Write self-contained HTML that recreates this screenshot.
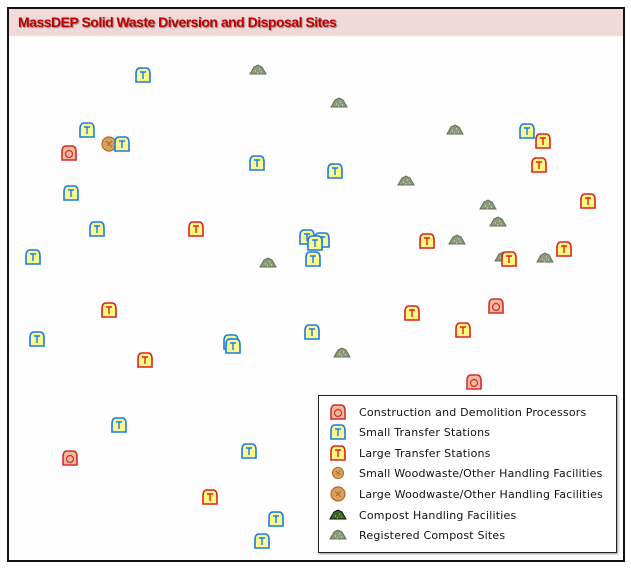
<!DOCTYPE html>
<html><head><meta charset="utf-8">
<style>
body{margin:0;width:631px;height:569px;background:#fff;overflow:hidden;font-family:"Liberation Sans",sans-serif}
#frame{position:absolute;left:7px;top:7px;width:614px;height:551px;border:2px solid #111;background:#fdfdfd}
#hdr{position:absolute;left:9px;top:9px;width:614px;height:27px;background:#f1d9d9}
#title{position:absolute;left:18px;top:14px;font:bold 14px "Liberation Sans",sans-serif;color:#c00000;text-shadow:1px 1px 1px #888;letter-spacing:-0.5px}
#legend{position:absolute;left:318px;top:395px;width:297px;height:156px;border:1px solid #222;background:#fff;box-shadow:1px 1px 2px #999}
.lt{position:absolute;left:40px;font:11px "DejaVu Sans",sans-serif;color:#111;letter-spacing:0.2px}
svg{position:absolute;left:0;top:0}
</style></head><body>
<div id="frame"></div>
<div id="hdr"></div>
<div id="title">MassDEP Solid Waste Diversion and Disposal Sites</div>
<svg id="map" width="631" height="569"></svg>
<div id="legend">
<svg id="lg" width="297" height="156"></svg>
<div class="lt" style="top:10px">Construction and Demolition Processors</div>
<div class="lt" style="top:30px">Small Transfer Stations</div>
<div class="lt" style="top:51px">Large Transfer Stations</div>
<div class="lt" style="top:71px">Small Woodwaste/Other Handling Facilities</div>
<div class="lt" style="top:92px">Large Woodwaste/Other Handling Facilities</div>
<div class="lt" style="top:113px">Compost Handling Facilities</div>
<div class="lt" style="top:133px">Registered Compost Sites</div>
</div>
<script>
const smallTX=[143,87,122,71,257,335,97,33,307,322,315,313,527,37,231,233,312,119,249,276,262];
const smallTY=[75,130,144,193,163,171,229,257,237,240,243,259,131,339,342,346,332,425,451,519,541];
const largeTX=[543,539,588,196,427,509,564,109,412,463,210,145];
const largeTY=[141,165,201,229,241,259,249,310,313,330,497,360];
const cdX=[69,496,474,70];
const cdY=[153,306,382,458];
const woodX=[109];
const woodY=[144];
const compX=[258,339,455,406,488,498,457,268,545,342,503];
const compY=[70,103,130,181,205,222,240,263,258,353,257];
const NS="http://www.w3.org/2000/svg";
function mk(t,a,p){const e=document.createElementNS(NS,t);for(const k in a)e.setAttribute(k,a[k]);p.appendChild(e);return e;}
function station(p,x,y,stroke,fill,letter){
 const g=mk('g',{transform:`translate(${x},${y})`},p);
 mk('path',{d:'M-7,7 L-7,-1 Q-7,-7 -3,-7 L3,-7 Q7,-7 7,-1 L7,7 Z',fill:fill,stroke:stroke,'stroke-width':1.6},g);
 if(letter==='T'){mk('path',{d:'M-3,-3 L3,-3 M0,-3 L0,4',stroke:stroke,'stroke-width':1.4,fill:'none'},g);}
 else{mk('circle',{cx:0,cy:1,r:3.5,fill:'none',stroke:stroke,'stroke-width':1.2},g);}
 return g;
}
function wood(p,x,y){const g=mk('g',{transform:`translate(${x},${y})`},p);
 mk('circle',{cx:0,cy:0,r:7,fill:'#d9a15a',stroke:'#a8692a','stroke-width':1.2},g);
 mk('path',{d:'M-3,-3 L3,3 M3,-3 L-2,2',stroke:'#a8692a','stroke-width':1},g);return g;}
function comp(p,x,y,dark){const g=mk('g',{transform:`translate(${x},${y})`},p);
 mk('path',{d:'M-8,4 L-4,-3 L0,-5 L4,-3 L8,4 Z',fill:dark?'#3a6a20':'#8a9a7a',stroke:dark?'#111':'#667055','stroke-width':1},g);
 mk('path',{d:'M-3,1 h1 M1,-1 h1 M3,2 h1 M-1,3 h1',stroke:dark?'#9c3':'#cdd','stroke-width':1.2},g);return g;}
const m=document.getElementById('map');
for(let i=0;i<compX.length;i++){const e=comp(m,compX[i],compY[i],false);

}
for(let i=0;i<cdX.length;i++){const e=station(m,cdX[i],cdY[i],'#d03030','#f2b99a','D');

}
for(let i=0;i<woodX.length;i++){const e=wood(m,woodX[i],woodY[i]);

}
for(let i=0;i<largeTX.length;i++){const e=station(m,largeTX[i],largeTY[i],'#e02020','#fafa80','T');

}
for(let i=0;i<smallTX.length;i++){const e=station(m,smallTX[i],smallTY[i],'#1a7ae8','#fafa90','T');

}
const l=document.getElementById('lg');
station(l,19,16,'#d03030','#f2b99a','D');
station(l,19,36,'#1a7ae8','#fafa90','T');
station(l,19,57,'#e02020','#fafa80','T');
const sw=wood(l,19,77);sw.setAttribute('transform','translate(19,77) scale(0.8)');
wood(l,19,98);
comp(l,19,119,true);
comp(l,19,139,false);
</script>
</body></html>
